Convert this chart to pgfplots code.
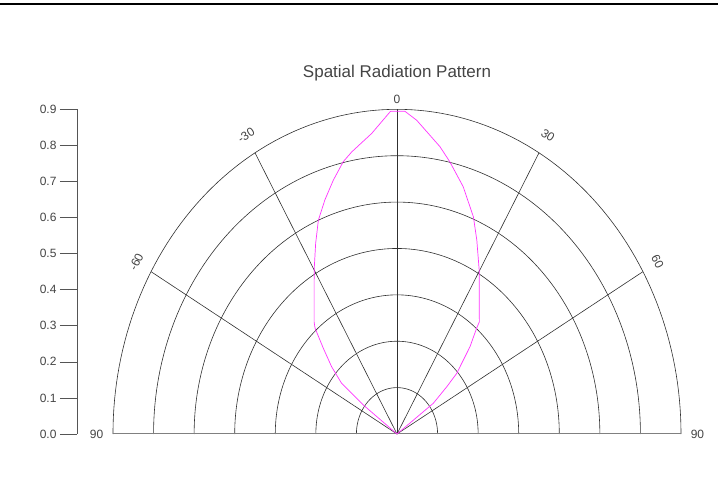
\documentclass[border=0pt]{standalone}
\usepackage{pgfplots}
\pgfplotsset{compat=1.18}
\usepackage{pgfplotstable}
\usepackage{fontspec}
\setmainfont{Liberation Sans}
\definecolor{txt}{HTML}{444444}
\definecolor{axc}{HTML}{555555}
\definecolor{gridc}{HTML}{303030}
\definecolor{magcurve}{HTML}{FF33FF}
\pgfplotstableread{
a r
-55.0 0.000
-53.0 0.134
-51.3 0.225
-48.0 0.279
-44.5 0.333
-41.5 0.392
-40.2 0.407
-30.0 0.525
-26.0 0.588
-22.8 0.643
-19.4 0.688
-16.0 0.732
-12.7 0.774
-10.4 0.795
-5.5 0.837
-1.3 0.895
1.6 0.895
4.1 0.872
9.7 0.808
12.5 0.773
17.0 0.717
21.9 0.649
25.2 0.594
29.8 0.524
40.0 0.406
40.7 0.387
43.7 0.335
48.4 0.253
50.3 0.205
53.5 0.143
55.0 0.000
}\radpattern
\pgfplotsset{ring/.style={gridc, line width=0.6pt, domain=-90:90, samples=121}}
\tikzset{lab/.style={text=txt, font=\fontsize{12}{14}\selectfont, inner sep=1pt}}
\begin{document}
\begin{tikzpicture}[x=1pt,y=1pt]
\path[use as bounding box] (-77,-64) rectangle (641,434);
\draw[line width=2pt] (-77,430) -- (641,430);
\begin{axis}[
  at={(0,0)}, anchor=south west,
  scale only axis, width=640pt, height=324.7pt,
  xmin=-1.014, xmax=1.014, ymin=0, ymax=0.9,
  axis x line=none, axis y line=left,
  y axis line style={-, draw=axc, line width=0.6pt},
  ytick={0,0.1,0.2,0.3,0.4,0.5,0.6,0.7,0.8,0.9},
  ytick style={draw=axc, line width=0.6pt},
  tick align=outside, major tick length=17pt,
  yticklabel style={/pgf/number format/fixed, /pgf/number format/fixed zerofill, /pgf/number format/precision=1, font=\fontsize{12}{14}\selectfont, text=txt},
  /pgf/number format/assume math mode=true,
  clip=false,
]
\addplot[ring] ({0.128571*sin(x)},{0.128571*cos(x)});
\addplot[ring] ({0.257143*sin(x)},{0.257143*cos(x)});
\addplot[ring] ({0.385714*sin(x)},{0.385714*cos(x)});
\addplot[ring] ({0.514286*sin(x)},{0.514286*cos(x)});
\addplot[ring] ({0.642857*sin(x)},{0.642857*cos(x)});
\addplot[ring] ({0.771429*sin(x)},{0.771429*cos(x)});
\addplot[ring] ({0.9*sin(x)},{0.9*cos(x)});
\addplot[gridc, line width=0.6pt] coordinates {(0,0) (-0.7794,0.45)};
\addplot[gridc, line width=0.6pt] coordinates {(0,0) (-0.45,0.7794)};
\addplot[gridc, line width=0.6pt] coordinates {(0,0) (0,0.9)};
\addplot[gridc, line width=0.6pt] coordinates {(0,0) (0.45,0.7794)};
\addplot[gridc, line width=0.6pt] coordinates {(0,0) (0.7794,0.45)};
\addplot[gray, line width=1pt] coordinates {(-0.9,0) (0.9,0)};
\addplot[magcurve, line width=0.7pt] table[x expr={\thisrow{r}*sin(\thisrow{a})}, y expr={\thisrow{r}*cos(\thisrow{a})}] {\radpattern};
\node[lab] at (axis cs:0,0.928) {0};
\node[lab, rotate=33] at (axis cs:-0.478,0.828) {-30};
\node[lab, rotate=-33] at (axis cs:0.478,0.828) {30};
\node[lab, rotate=63] at (axis cs:-0.826,0.477) {-60};
\node[lab, rotate=-63] at (axis cs:0.826,0.477) {60};
\node[lab] at (axis cs:-0.952,0) {90};
\node[lab] at (axis cs:0.952,0) {90};
\node[text=txt, font=\fontsize{17}{20}\selectfont] at (axis cs:0,1.0) {Spatial Radiation Pattern};
\end{axis}
\end{tikzpicture}
\end{document}
